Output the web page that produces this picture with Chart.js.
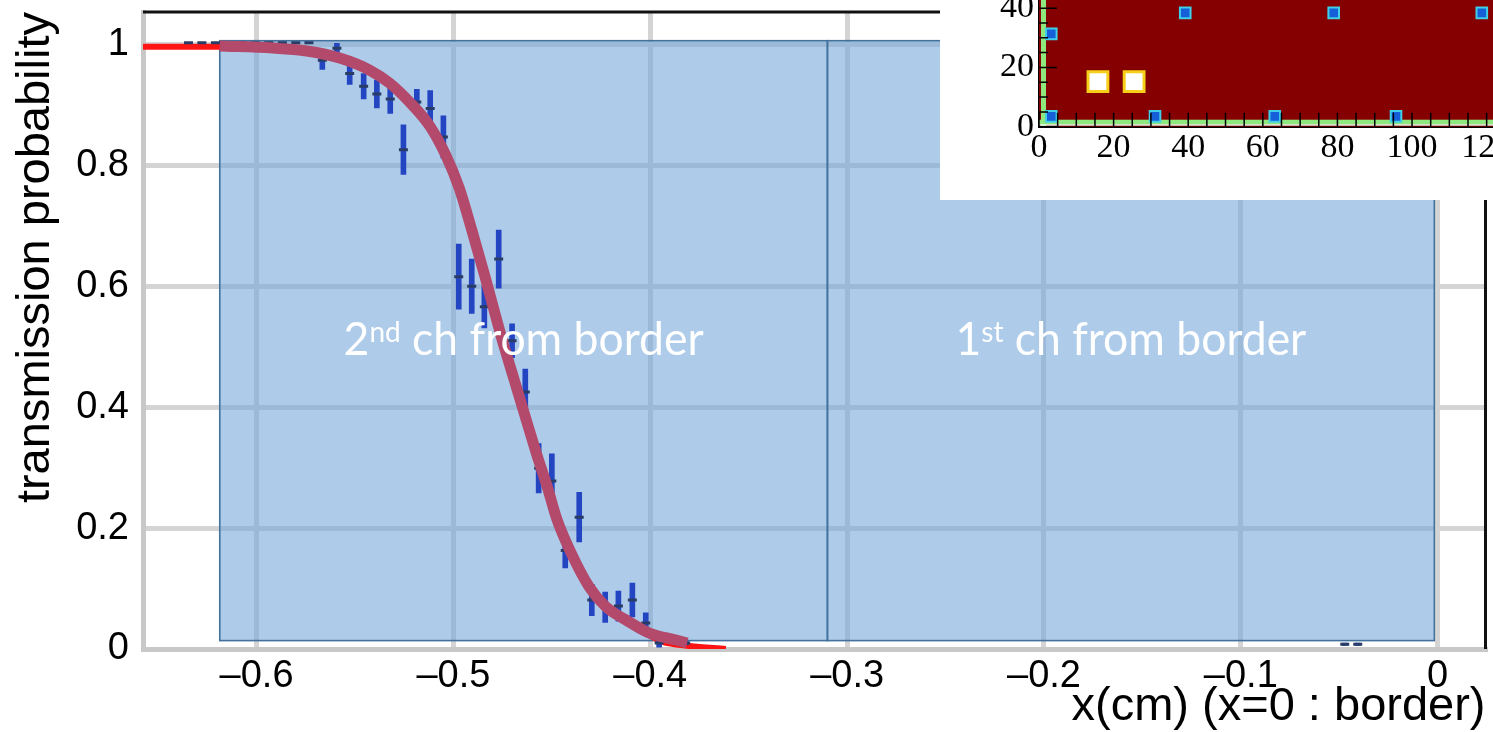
<!DOCTYPE html>
<html><head><meta charset="utf-8">
<script src="https://cdn.jsdelivr.net/npm/chart.js@4.4.1/dist/chart.umd.min.js"></script>
<style>
html,body{margin:0;padding:0;background:#fff;overflow:hidden;width:1493px;height:732px;position:relative;}
#main{position:absolute;left:0;top:0;width:1493px;height:732px;}
#inset{position:absolute;left:940px;top:-40px;width:620px;height:240px;}
</style></head><body>
<canvas id="main" width="1493" height="732"></canvas>
<canvas id="inset" width="620" height="240"></canvas>
<script>
// ---------- main chart data ----------
const pointX = [-0.6346,-0.6278,-0.6209,-0.6141,-0.6075,-0.6006,-0.5938,-0.5869,-0.5801,-0.5734,
  -0.5666,-0.5592,-0.5527,-0.5456,-0.5389,-0.5321,-0.5254,-0.5186,-0.5118,-0.5051,
  -0.4973,-0.4907,-0.4843,-0.4770,-0.4702,-0.4635,-0.4567,-0.4500,-0.4432,-0.4361,
  -0.4297,-0.4229,-0.4162,-0.4091,-0.4023,-0.3955,-0.3820,-0.0472,-0.0406];
const pointY = [1.003,1.003,1.003,1.003,1.003,1.003,1.003,1.003,1.003,1.003,
  0.974,0.994,0.952,0.931,0.918,0.910,0.826,0.905,0.894,0.847,
  0.616,0.600,0.566,0.645,0.510,0.425,0.299,0.278,0.163,0.218,
  0.081,0.069,0.071,0.081,0.043,0.010,0.010,0.008,0.008];
const pointErr = [0,0,0,0,0,0,0,0,0,0,
  0.015,0.008,0.018,0.021,0.023,0.024,0.041,0.021,0.030,0.035,
  0.054,0.045,0.035,0.048,0.028,0.038,0.041,0.045,0.029,0.041,
  0.026,0.025,0.025,0.028,0.017,0.007,0.003,0.002,0.002];

const fitX = [-0.6577,-0.6187,-0.5918,-0.5745,-0.5578,-0.5426,-0.5325,-0.5223,-0.5122,-0.5036,-0.4970,
  -0.4904,-0.4843,-0.4752,-0.4691,-0.4630,-0.4579,-0.4523,-0.4473,-0.4402,-0.4310,-0.4224,-0.4123,
  -0.4006,-0.3940,-0.3800,-0.3616];
const fitY = [0.9965,0.9965,0.9942,0.9892,0.9777,0.9578,0.9363,0.9049,0.8660,0.8150,0.7620,
  0.6900,0.6200,0.5112,0.4450,0.3788,0.3242,0.2680,0.2134,0.1588,0.1026,0.0695,0.0450,
  0.0230,0.0120,0.0050,0.0000];

const bandX = [-0.6187,-0.5918,-0.5745,-0.5578,-0.5426,-0.5325,-0.5223,-0.5122,-0.5036,-0.4970,
  -0.4904,-0.4843,-0.4752,-0.4691,-0.4630,-0.4579,-0.4523,-0.4473,-0.4402,-0.4310,-0.4224,-0.4123,
  -0.4006,-0.3869,-0.3813];
const bandY = [0.9975,0.9942,0.9892,0.9777,0.9578,0.9363,0.9049,0.8660,0.8150,0.7620,
  0.6900,0.6200,0.5112,0.4450,0.3788,0.3242,0.2680,0.2134,0.1588,0.1026,0.0695,0.0480,
  0.0265,0.0149,0.0099];

const xTicks = [-0.6,-0.5,-0.4,-0.3,-0.2,-0.1,0];
const xTickLabels = ['\u20130.6','\u20130.5','\u20130.4','\u20130.3','\u20130.2','\u20130.1','0'];
const yTicks = [0,0.2,0.4,0.6,0.8,1];
const yTickLabels = ['0','0.2','0.4','0.6','0.8','1'];

const channelEdges = [-0.6187,-0.310,-0.0017];
const channelBoxY = [0.0139,1.0063];
const channelLabels = [['2','nd',' ch from border'],['1','st',' ch from border']];
const channelLabelY = 0.486;

const xTitle = 'x(cm) (x=0 : border)';
const yTitle = 'transmission probability';

// ---------- inset data ----------
const insetSmallX = [3.3,3.3,31.1,63.2,95.7,39.2,79.0,118.7];
const insetSmallY = [31.3,3.5,3.5,3.5,3.5,38.4,38.4,38.4];
const insetBigX = [15.8,25.5];
const insetBigY = [15.2,15.2];
const insetXTicks = [0,20,40,60,80,100,120];
const insetYTicks = [0,20,40];

function noEdgePadding(s){ s.paddingTop = 0; s.paddingBottom = 0; s.paddingLeft = 0; s.paddingRight = 0; }

// ---------- main chart ----------
const deco = {
  id:'deco',
  beforeDatasetsDraw(chart){
    const {ctx, scales:{x,y}} = chart;
    const y0 = y.getPixelForValue(channelBoxY[0]), y1 = y.getPixelForValue(channelBoxY[1]);
    const xa = x.getPixelForValue(channelEdges[0]), xb = x.getPixelForValue(channelEdges[channelEdges.length-1]);
    ctx.save();
    ctx.fillStyle = 'rgba(116,167,219,0.58)';
    ctx.fillRect(xa, y1, xb-xa, y0-y1);
    ctx.strokeStyle = '#41719c';
    ctx.lineWidth = 1.6;
    for (let i=0;i<channelEdges.length-1;i++){
      const p = x.getPixelForValue(channelEdges[i]), q = x.getPixelForValue(channelEdges[i+1]);
      ctx.strokeRect(p, y1, q-p, y0-y1);
    }
    ctx.restore();
  },
  afterDatasetsDraw(chart){
    const {ctx, chartArea:a, scales:{x,y}} = chart;
    ctx.save();
    ctx.strokeStyle = '#111';
    ctx.lineWidth = 3;
    ctx.beginPath();
    ctx.moveTo(a.left, a.top); ctx.lineTo(a.right, a.top);
    ctx.moveTo(a.right, a.top); ctx.lineTo(a.right, a.bottom);
    ctx.stroke();
    const S = 47;
    const sup = 0.63;
    const targetW = 360;
    function widthAt(parts){
      ctx.font = S+'px Lato'; const w1 = ctx.measureText(parts[0]).width + ctx.measureText(parts[2]).width;
      ctx.font = (S*sup)+'px Lato'; const w2 = ctx.measureText(parts[1]).width;
      return w1+w2;
    }
    const k = targetW / widthAt(channelLabels[0]);
    ctx.fillStyle = '#fff';
    ctx.textBaseline = 'alphabetic';
    ctx.textAlign = 'left';
    const by = y.getPixelForValue(channelLabelY);
    for (let i=0;i<channelLabels.length;i++){
      const parts = channelLabels[i];
      const cx = (x.getPixelForValue(channelEdges[i]) + x.getPixelForValue(channelEdges[i+1]))/2;
      const w = widthAt(parts) * k;
      ctx.save();
      ctx.translate(cx - w/2, by);
      ctx.scale(k, 1);
      let px = 0;
      ctx.font = S+'px Lato'; ctx.fillText(parts[0], px, 0); px += ctx.measureText(parts[0]).width;
      ctx.font = (S*sup)+'px Lato'; ctx.fillText(parts[1], px, -S*0.28); px += ctx.measureText(parts[1]).width;
      ctx.font = S+'px Lato'; ctx.fillText(parts[2], px, 0);
      ctx.restore();
    }
    ctx.restore();
  }
};

new Chart(document.getElementById('main').getContext('2d'), {
  type:'line',
  data:{datasets:[
    {type:'line', data: bandX.map((v,i)=>({x:v,y:bandY[i]})), borderColor:'#b44a6b', borderWidth:11,
     pointRadius:0, cubicInterpolationMode:'monotone', borderCapStyle:'butt', order:0},
    {type:'scatter', data: pointX.map((v,i)=>({x:v,y:pointY[i]})), pointStyle:'line', pointRadius:4.5,
     pointBorderWidth:3, pointBorderColor:'#283c66', borderColor:'#283c66', order:1},
    {type:'bar', data: pointX.map((v,i)=>({x:v,y:[pointY[i]-pointErr[i], pointY[i]+pointErr[i]]})),
     backgroundColor:'#2445c2', borderWidth:0, barThickness:5, grouped:false, order:2},
    {type:'line', data: fitX.map((v,i)=>({x:v,y:fitY[i]})), borderColor:'#ff1414', borderWidth:6,
     pointRadius:0, cubicInterpolationMode:'monotone', order:3}
  ]},
  options:{
    responsive:false, animation:false, devicePixelRatio:1,
    layout:{padding:{top:12,right:5,left:0,bottom:0}},
    plugins:{legend:{display:false}, tooltip:{enabled:false}},
    scales:{
      x:{type:'linear', min:-0.6577, max:0.0243, offset:false,
        afterBuildTicks(s){ s.ticks = xTicks.map(v=>({value:v})); },
        afterFit(s){ s.height = 83; noEdgePadding(s); },
        grid:{color:'#d4d4d4', lineWidth:5, drawTicks:false, offset:false},
        border:{display:true, color:'#c8c8c8', width:5},
        ticks:{callback:(v,i)=>xTickLabels[i], font:{family:'Liberation Sans', size:38, lineHeight:1.2}, color:'#000', padding:5, maxRotation:0, autoSkip:false},
        title:{display:true, text:xTitle, align:'end', color:'#000', font:{family:'Liberation Sans', size:47, lineHeight:1}, padding:{top:0,bottom:1}}
      },
      y:{type:'linear', min:0, max:1.0538,
        afterBuildTicks(s){ s.ticks = yTicks.map(v=>({value:v})); },
        afterFit(s){ s.width = 143; noEdgePadding(s); },
        grid:{color:'#d4d4d4', lineWidth:5, drawTicks:false},
        border:{display:true, color:'#c8c8c8', width:5},
        ticks:{callback:(v,i)=>yTickLabels[i], font:{family:'Liberation Sans', size:38}, color:'#000', padding:14, autoSkip:false},
        title:{display:true, text:yTitle, align:'end', color:'#000', font:{family:'Liberation Sans', size:47, lineHeight:1}, padding:{top:13,bottom:0}}
      }
    }
  },
  plugins:[deco]
});

// ---------- inset chart ----------
const insetDeco = {
  id:'insetDeco',
  beforeDraw(chart){
    const {ctx} = chart;
    ctx.save(); ctx.fillStyle = '#fff'; ctx.fillRect(0,0,chart.width,chart.height); ctx.restore();
  },
  beforeDatasetsDraw(chart){
    const {ctx, chartArea:a} = chart;
    ctx.save();
    ctx.fillStyle = '#850000';
    ctx.fillRect(a.left, a.top, a.right-a.left, a.bottom-a.top);
    ctx.fillStyle = '#8fe87e';
    ctx.fillRect(a.left+2, a.top, 5, a.bottom-a.top);
    ctx.fillRect(a.left, a.bottom-7, a.right-a.left, 5);
    ctx.fillStyle = '#e8f8e8';
    ctx.fillRect(a.left, a.bottom-2.5, a.right-a.left, 1.5);
    ctx.restore();
  },
  afterDraw(chart){
    const {ctx, chartArea:a, scales:{x,y}} = chart;
    ctx.save();
    ctx.strokeStyle = '#000'; ctx.lineWidth = 1.5;
    ctx.beginPath();
    for (let v=0; v<=x.max; v+=5){ const p = x.getPixelForValue(v); ctx.moveTo(p, a.bottom); ctx.lineTo(p, a.bottom-14); }
    for (let v=0; v<=y.max; v+=5){ const p = y.getPixelForValue(v); const L = (v%20===0)?18:9; ctx.moveTo(a.left, p); ctx.lineTo(a.left+L, p); }
    ctx.stroke();
    ctx.restore();
  }
};

new Chart(document.getElementById('inset').getContext('2d'), {
  type:'scatter',
  data:{datasets:[
    {data: insetSmallX.map((v,i)=>({x:v,y:insetSmallY[i]})), pointStyle:'rect', pointRadius:7.5,
     pointBackgroundColor:'#1560d8', pointBorderColor:'#3fd0e8', pointBorderWidth:2},
    {data: insetBigX.map((v,i)=>({x:v,y:insetBigY[i]})), pointStyle:'rect', pointRadius:14,
     pointBackgroundColor:'#ffffff', pointBorderColor:'#f5cf1a', pointBorderWidth:3}
  ]},
  options:{
    responsive:false, animation:false, devicePixelRatio:1,
    layout:{padding:{top:0,right:20,left:0,bottom:0}},
    plugins:{legend:{display:false}, tooltip:{enabled:false}},
    scales:{
      x:{type:'linear', min:0, max:134.3,
        afterBuildTicks(s){ s.ticks = insetXTicks.map(v=>({value:v})); },
        afterFit(s){ s.height = 73.3; noEdgePadding(s); },
        grid:{display:false, drawTicks:false},
        border:{display:true, color:'#000', width:2},
        ticks:{font:{family:'Liberation Serif', size:34, lineHeight:1}, color:'#000', padding:4, maxRotation:0, autoSkip:false}
      },
      y:{type:'linear', min:0, max:50.5,
        afterBuildTicks(s){ s.ticks = insetYTicks.map(v=>({value:v})); },
        afterFit(s){ s.width = 99; noEdgePadding(s); },
        grid:{display:false, drawTicks:false},
        border:{display:true, color:'#000', width:2},
        ticks:{font:{family:'Liberation Serif', size:34, lineHeight:1}, color:'#000', padding:5, autoSkip:false}
      }
    }
  },
  plugins:[insetDeco]
});
</script></body></html>
